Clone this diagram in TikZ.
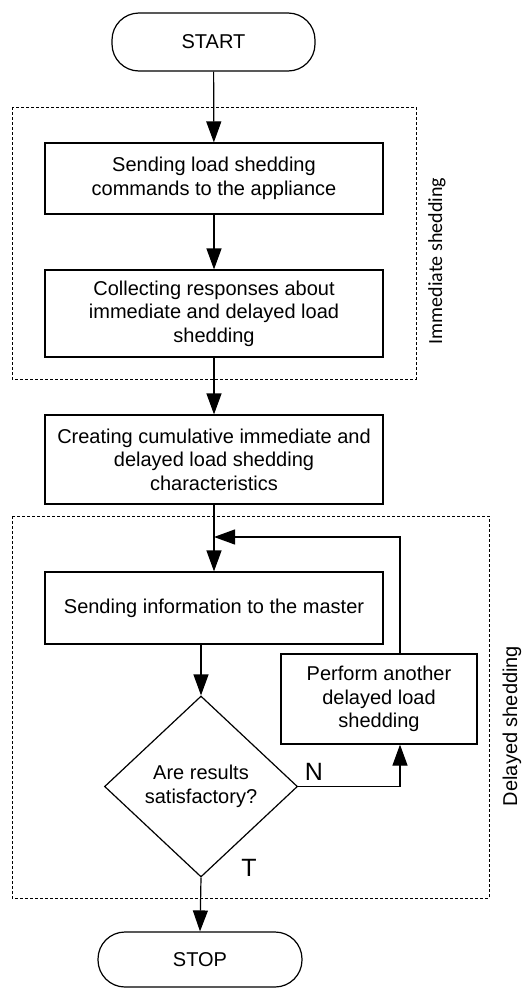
\documentclass[tikz,border=0pt]{standalone}
\usepackage{fontspec}
\setmainfont{Liberation Sans}
\newfontfamily\calib{Carlito}
\usetikzlibrary{arrows.meta,shapes.geometric}
\begin{document}
\begin{tikzpicture}[x=1pt,y=-1pt,
  every node/.style={font=\fontsize{20}{23.5}\selectfont},
  proc/.style={draw,line width=1.2pt,minimum width=338pt,align=center,inner sep=0pt},
  term/.style={draw,line width=1.2pt,rounded corners=27pt,minimum height=56pt,align=center,inner sep=0pt},
  arr/.style={line width=1.2pt,-{Triangle[length=21pt,width=15pt]}},
  branch/.style={font=\fontsize{25}{28}\selectfont},
  grp/.style={dashed,line width=0.7pt,dash pattern=on 3pt off 2pt}]
\useasboundingbox (0,0) rectangle (524,988);
% group frames
\draw[grp] (12,107) rectangle (416,379);
\draw[grp] (12,516) rectangle (489,898);
\node[rotate=90,font=\calib\fontsize{20}{23.5}\selectfont] (lab1) at (437,261) {Immediate shedding};
\node[rotate=90] (lab2) at (512,726) {Delayed shedding};
% nodes
\node[term,minimum width=203pt,minimum height=58pt] (start) at (213.5,42) {START};
\node[proc,minimum height=71pt] (b1) at (214,178.5) {Sending load shedding\\commands to the appliance};
\node[proc,minimum height=87pt] (b2) at (214,313.5) {Collecting responses about\\immediate and delayed load\\shedding};
\node[proc,minimum height=89pt] (b3) at (214,459.5) {Creating cumulative immediate and\\delayed load shedding\\characteristics};
\node[proc,minimum height=72pt] (b4) at (214,608) {Sending information to the master};
\node[draw,diamond,line width=1.2pt,minimum width=193pt,minimum height=181pt,inner sep=0pt,align=center] (dia) at (201,786.5) {Are results\\satisfactory?};
\node[proc,minimum width=196pt,minimum height=90pt] (b5) at (379,699) {Perform another\\delayed load\\shedding};
\node[term,minimum width=204pt,minimum height=55pt] (stop) at (200,959.5) {STOP};
\node[branch] (nl) at (314,772) {N};
\node[branch] (tl) at (249,868) {T};
% helper coordinates
\coordinate (lx) at (400,0);
\coordinate (j) at (214,537);
% connectors
\draw[arr] (start) -- (b1);
\draw[arr] (b1) -- (b2);
\draw[arr] (b2) -- (b3);
\draw[arr] (b3) -- (b4);
\draw[arr] (dia.north |- b4.south) -- (dia.north);
\draw[arr] (dia.east) -| (lx |- b5.south);
\draw[arr] (lx |- b5.north) |- (j);
\draw[arr] (dia.south) -- (stop.north);
\end{tikzpicture}
\end{document}
